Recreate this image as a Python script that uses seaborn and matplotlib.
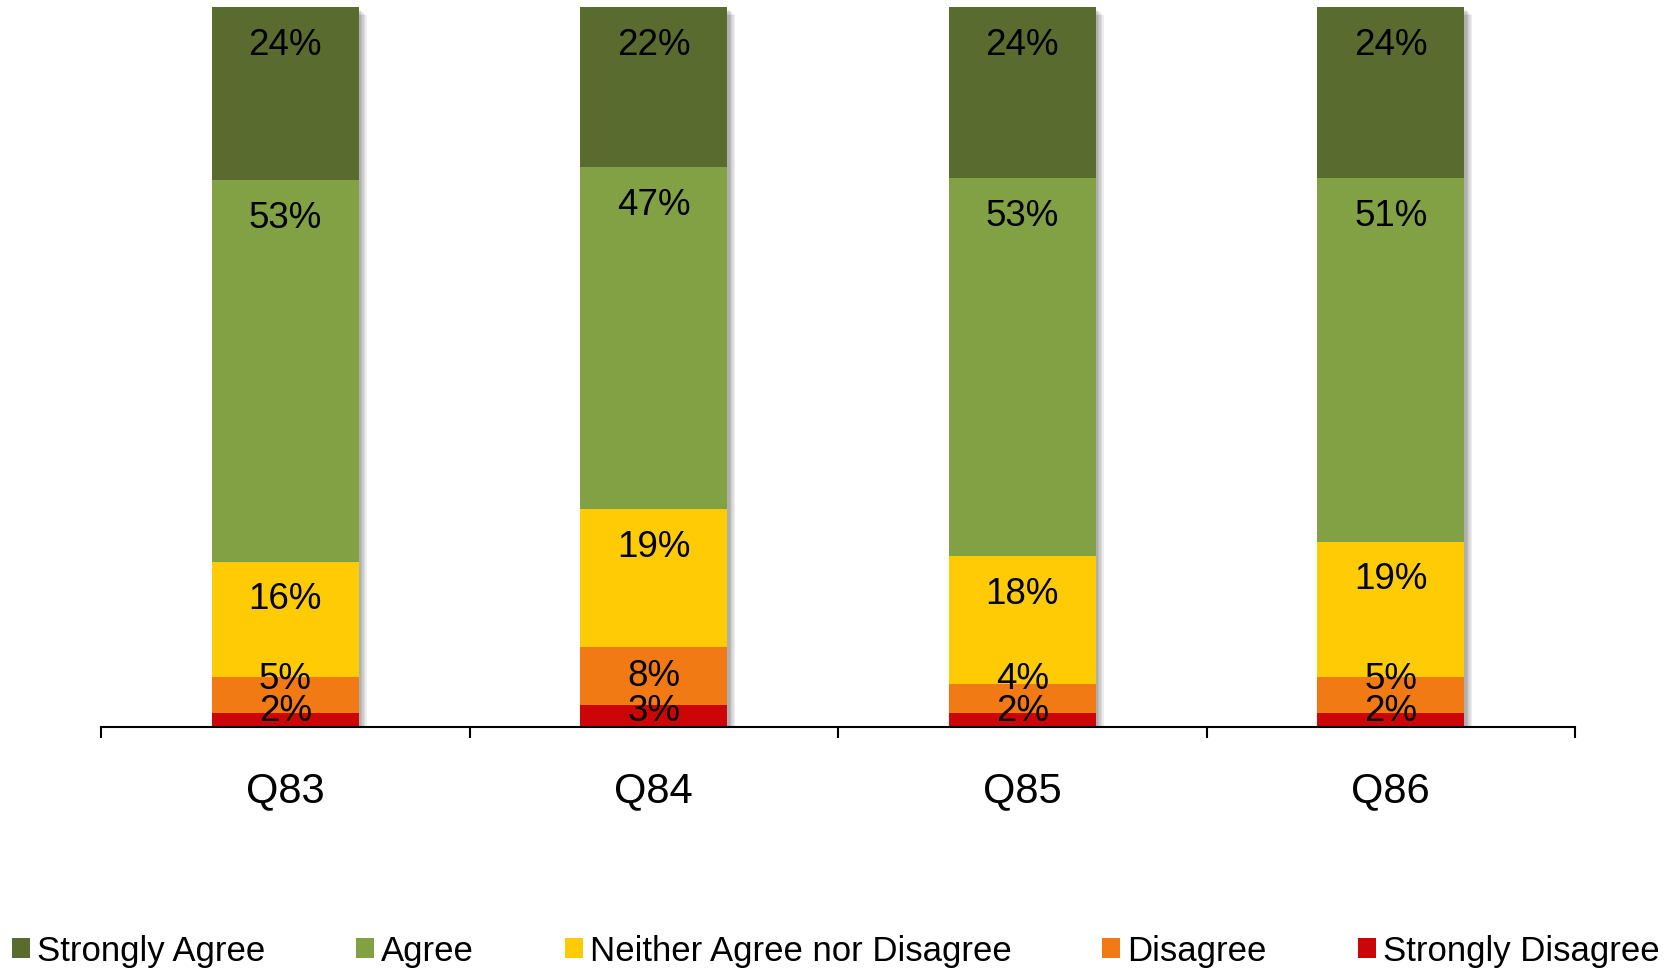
import numpy as np
import pandas as pd
import matplotlib
matplotlib.use("Agg")
import matplotlib.pyplot as plt
import matplotlib.patheffects as pe
from matplotlib.patches import Patch
import seaborn as sns

categories = ["Q83", "Q84", "Q85", "Q86"]
strongly_agree = [24, 22, 24, 24]
agree = [53, 47, 53, 51]
neither = [16, 19, 18, 19]
disagree = [5, 8, 4, 5]
strongly_disagree = [2, 3, 2, 2]

series_names = ["Strongly Agree", "Agree", "Neither Agree nor Disagree",
                "Disagree", "Strongly Disagree"]
colors = ["#596B2E", "#82A044", "#FECB05", "#F27A14", "#CC0606"]

sns.set_theme(style="white")
plt.rcParams["font.family"] = ["Liberation Sans", "DejaVu Sans"]
plt.rcParams["text.color"] = "black"

# stack order from the bottom up
stack = [strongly_disagree, disagree, neither, agree, strongly_agree]
stack_colors = colors[::-1]
raw = np.array(stack, dtype=float)
shares = raw / raw.sum(axis=0) * 100.0          # 100% stacked
tops = np.cumsum(shares, axis=0)
bottoms = tops - shares

fig = plt.figure(figsize=(16.71, 9.72), dpi=100)
ax = fig.add_axes([101 / 1671, 1 - 727 / 972, (1575 - 101) / 1671, (727 - 7.5) / 972])

# draw cumulative layers, tallest first, so each shorter one covers the previous
for level in range(len(stack) - 1, -1, -1):
    df = pd.DataFrame({"q": categories, "v": tops[level]})
    sns.barplot(data=df, x="q", y="v", color=stack_colors[level], saturation=1,
                width=0.4, linewidth=0, ax=ax)

# soft drop shadow on the full-height bars
shadow = [pe.SimplePatchShadow(offset=(o, -o), shadow_rgbFace="black", alpha=0.07)
          for o in (1.5, 2.5, 3.5, 4.5, 5.5)]
for bar in ax.containers[0].patches:
    bar.set_path_effects(shadow + [pe.Normal()])

# data labels: near the segment top for tall segments, stacked upward for thin ones
for i in range(len(categories)):
    prev = None
    for level in range(len(stack)):
        h = shares[level, i]
        if h >= 10:
            y = tops[level, i] - 5.3
        else:
            y = max(bottoms[level, i] + h / 2, 2.2)
        if prev is not None:
            y = max(y, prev + 4.4)
        prev = y
        ax.text(i, y, f"{stack[level][i]}%", ha="center", va="center",
                fontsize=26.5, color="black")

ax.set_ylim(0, 100)
ax.set_xlim(-0.5, len(categories) - 0.5)
for side in ("top", "right", "left"):
    ax.spines[side].set_visible(False)
ax.spines["bottom"].set_color("black")
ax.spines["bottom"].set_linewidth(1.5)
ax.set_yticks([])
ax.set_xlabel("")
ax.set_ylabel("")
ax.set_xticks(np.arange(-0.5, len(categories)), minor=True)
ax.tick_params(axis="x", which="major", length=0, pad=31.5, labelsize=30, colors="black")
ax.tick_params(axis="x", which="minor", direction="out", length=8, width=1.5,
               color="black", bottom=True)

handles = [Patch(facecolor=c, edgecolor="none") for c in colors]
leg = fig.legend(handles, series_names, loc="center", bbox_to_anchor=(0.5, 1 - 951 / 972),
                 ncol=5, frameon=False, fontsize=25, handlelength=0.52, handleheight=0.52,
                 handletextpad=0.2, columnspacing=2.62, borderpad=0, borderaxespad=0)
for t in leg.get_texts():
    t.set_color("black")

fig.savefig("out.png", dpi=100, facecolor="white")
